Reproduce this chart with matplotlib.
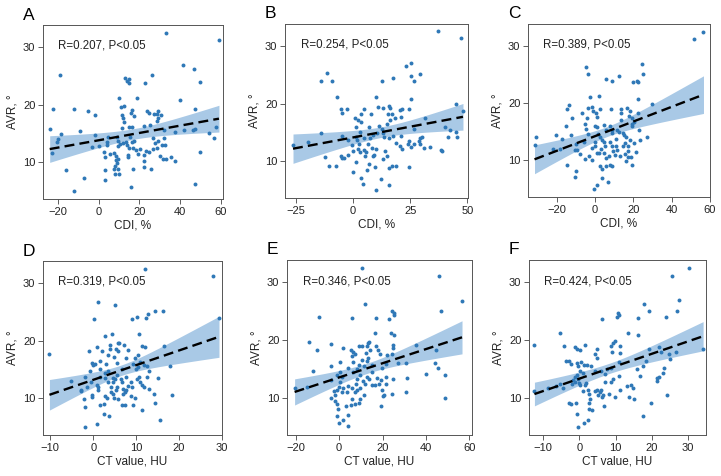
import numpy as np
import matplotlib
matplotlib.use("Agg")
import matplotlib.pyplot as plt

plt.rcParams['font.family'] = ['Liberation Sans', 'DejaVu Sans']

# ---- data (AVR, degrees vs. CDI % / CT value HU) ----
a_x = [33.3, 59.2, 41.3, 46.9, -19.3, 26.1, 12.9, 14.7, 13.7, 14.7, 23.0, 49.8, 40.0, 9.8, 19.0,
       -5.1, -12.4, -22.7, 47.4, 11.1, 12.6, 16.3, 16.0, -2.0, 23.7, 24.7, 29.2, 28.9, 27.3, 30.6,
       11.3, 12.1, 17.5, 29.4, 28.9, 12.6, 22.4, 25.0, 16.3, 14.7, 11.3, -24.2, -18.5, -9.2, -20.1,
       -20.4, -23.0, -16.0, -7.4, -12.3, 4.7, 3.9, 4.1, 0.0, 2.8, 2.9, 2.9, 9.0, 9.5, 10.5,
       9.6, 11.9, 7.7, 8.7, 9.5, 8.3, 8.8, 7.8, 7.4, 9.5, 9.8, 15.2, 13.2, 14.1, 15.0,
       14.2, 14.4, 16.2, 17.0, 18.1, 19.3, 16.8, 15.7, 22.4, 22.5, 25.8, 23.5, 24.5, 22.4, 26.6,
       27.6, 29.2, 30.9, 32.5, 32.2, 26.8, 28.6, 30.2, 31.5, 33.2, 35.5, 37.4, 37.7, 32.2, 42.0,
       46.4, 47.5, 49.8, 54.2, 56.7, 57.8, 47.2, -1.8, -3.3, 5.7, 7.8, 3.1, 17.5, 20.3]
a_y = [32.5, 31.2, 26.9, 26.3, 25.1, 25.2, 24.7, 24.4, 24.1, 23.8, 23.7, 24.0, 20.8, 21.2, 21.2,
       18.9, 19.3, 19.3, 19.3, 19.6, 19.7, 19.0, 18.6, 18.2, 18.9, 18.6, 18.8, 18.4, 18.4, 18.2,
       18.2, 17.6, 18.0, 17.6, 17.2, 16.9, 16.2, 16.4, 16.1, 16.0, 15.9, 15.8, 14.9, 15.4, 13.9,
       13.5, 11.6, 8.5, 7.1, 4.9, 14.3, 13.5, 12.9, 12.7, 11.7, 10.9, 6.8, 14.3, 13.6, 13.1,
       12.7, 13.3, 11.6, 11.0, 10.5, 10.3, 9.8, 9.3, 8.8, 8.7, 7.9, 14.4, 13.4, 12.9, 12.4,
       11.2, 10.9, 13.4, 12.4, 12.0, 11.4, 8.8, 5.6, 10.1, 9.1, 8.8, 11.8, 11.7, 11.2, 12.2,
       13.2, 13.6, 13.0, 12.9, 14.2, 14.1, 12.4, 11.1, 10.5, 10.5, 10.8, 10.1, 15.2, 15.6, 15.6,
       15.6, 15.8, 11.7, 15.1, 14.1, 16.0, 6.1, 14.6, 12.6, 11.3, 7.9, 8.6, 13.6, 12.3]

b_x = [37.2, 47.1, 25.6, 23.4, 25.3, 26.6, 29.1, -11.2, -13.8, -9.0, 12.5, 17.4, -6.8, 10.3, 25.4,
       -5.1, -2.5, -4.9, 4.8, 10.9, 13.1, 15.6, 16.0, 20.5, 21.5, 24.4, 3.6, 8.0, 15.4, 16.9,
       18.6, 21.1, 31.4, 48.1, 44.9, 42.3, 40.3, 39.0, 44.9, 45.5, 41.6, 33.9, 30.2, 29.5, 28.8,
       24.4, 24.1, 25.3, 26.6, 26.6, 24.4, 20.5, 21.4, 18.8, 16.9, 15.6, 15.8, 14.8, 14.0, 13.1,
       12.1, 10.3, 9.6, 8.9, 9.4, 10.3, 8.3, 6.8, 7.6, 8.7, 10.6, 13.2, 13.5, 14.7, 16.4,
       12.8, 11.2, 4.8, 5.7, 5.1, 3.3, 2.2, 2.8, 1.9, 1.2, 1.5, 0.9, 2.0, 3.5, 7.0,
       0.1, 3.5, 4.4, 7.0, 6.0, 1.3, -4.8, -5.4, -4.8, -3.8, -7.6, -10.6, -12.4, -14.1, -19.5,
       -26.2, 4.9, 3.3, -2.2, -0.6, 18.9, 21.2, 15.8, 17.6, 31.0, 38.6, 29.5, -0.1, -2.0]
b_y = [32.7, 31.4, 27.0, 26.5, 24.8, 24.0, 25.2, 25.3, 24.0, 23.9, 23.9, 24.4, 21.2, 21.2, 20.8,
       19.0, 19.0, 18.3, 19.0, 19.4, 19.3, 19.6, 19.2, 18.8, 19.1, 19.0, 18.2, 18.2, 18.2, 18.1,
       17.5, 17.7, 17.5, 18.7, 19.9, 15.4, 15.9, 11.7, 15.0, 14.2, 14.1, 12.4, 14.2, 13.9, 13.5,
       13.5, 13.0, 12.4, 13.0, 15.6, 9.0, 12.6, 12.1, 9.1, 9.1, 8.8, 5.7, 10.9, 11.7, 10.4,
       6.8, 4.9, 9.0, 10.9, 11.0, 12.0, 12.3, 13.0, 13.9, 14.5, 14.9, 14.9, 14.2, 16.5, 17.1,
       15.6, 16.0, 11.9, 11.6, 10.8, 11.6, 12.1, 13.0, 13.6, 14.2, 15.9, 17.5, 17.1, 16.8, 15.9,
       8.0, 7.0, 5.9, 9.5, 8.4, 9.8, 14.3, 10.8, 10.5, 10.5, 9.1, 9.1, 10.6, 14.9, 13.3,
       12.7, 14.0, 15.0, 13.7, 12.7, 13.1, 14.3, 13.9, 14.4, 12.2, 11.9, 13.0, 11.7, 11.1]

c_x = [56.6, 51.4, 24.3, 25.2, -4.9, -3.7, 5.9, 9.1, 12.6, 19.6, 21.7, 22.6, -2.8, 2.1, 22.6,
       29.5, -13.6, -3.7, -1.4, 2.8, 8.2, 13.3, 16.8, -14.7, -1.0, -6.8, 0.7, 13.8, 18.2, 22.2,
       1.0, -11.9, 17.8, 19.1, 20.3, -5.2, -15.4, -0.2, 1.0, 4.7, 19.1, 19.4, 5.6, 11.7, 8.6,
       14.7, -20.3, -12.4, -3.5, -30.8, -31.6, -17.1, -21.7, -18.5, -14.7, -9.8, -10.7, -9.4, -9.8, -10.3,
       -5.8, -8.0, -5.1, -3.3, -1.4, -0.2, -0.2, 1.9, 3.3, 3.8, 4.5, 5.4, 4.5, 1.0, -1.6,
       2.6, 3.7, 3.7, -0.5, 1.0, 7.0, 5.9, 7.2, 5.9, 8.0, 9.1, 10.3, 9.4, 8.0, 8.6,
       10.8, 10.8, 11.7, 12.9, 14.5, 15.6, 16.4, 15.0, 18.0, 17.3, 17.1, 15.7, 16.4, 18.7, 17.0,
       19.1, 20.3, 23.4, 26.9, 23.1, 21.3, 12.6, 7.7, 1.6, 2.4, -4.9, -4.2, 8.9, 13.5]
c_y = [32.5, 31.3, 26.9, 25.1, 26.4, 25.2, 24.3, 23.9, 24.7, 23.7, 23.9, 23.7, 21.1, 21.2, 20.7,
       19.8, 19.6, 19.2, 19.3, 18.9, 19.0, 18.9, 19.2, 18.9, 18.6, 18.3, 18.2, 18.2, 18.6, 18.3,
       17.6, 17.3, 17.7, 17.3, 16.7, 16.3, 15.9, 15.9, 15.8, 16.2, 15.9, 16.3, 15.3, 15.3, 14.7,
       14.8, 14.4, 14.4, 14.6, 14.0, 12.7, 13.7, 12.0, 12.0, 9.1, 12.8, 11.7, 11.7, 8.1, 7.1,
       13.1, 11.0, 10.1, 10.7, 12.1, 13.1, 12.5, 11.3, 12.0, 13.6, 13.1, 12.4, 11.2, 11.2, 10.0,
       9.0, 8.5, 6.8, 4.9, 5.6, 6.1, 9.0, 10.7, 10.4, 9.1, 9.0, 10.8, 11.6, 13.1, 12.4,
       13.7, 12.4, 11.8, 10.7, 12.4, 13.0, 14.0, 14.4, 13.6, 12.4, 11.6, 11.0, 9.9, 10.6, 10.6,
       9.1, 13.0, 13.5, 14.1, 15.3, 11.4, 14.9, 15.9, 14.6, 14.1, 15.4, 17.3, 15.3, 17.0]

d_x = [12.0, 28.0, 1.0, 5.0, 0.2, 9.1, 10.2, 12.7, 12.3, 14.5, 16.3, 29.3, 4.4, 10.7, 2.7,
       0.9, -0.9, -10.2, 2.1, 3.8, 5.2, 5.7, 6.1, 5.7, 7.1, 3.8, 8.2, 11.4, 12.0, 16.5,
       3.4, 4.8, 7.7, 10.5, 11.0, 3.0, 5.5, -0.4, -0.1, 0.5, 1.5, -0.7, 10.0, 10.5, 11.8,
       12.6, 17.9, -2.0, -5.2, -2.9, -2.9, -1.5, -0.5, -0.3, -0.2, 0.8, 1.0, 1.1, 1.6, 2.7,
       2.8, 3.5, 3.4, 4.5, 4.5, 5.0, 4.1, 5.5, 5.2, 4.2, 2.8, 3.3, 4.9, 2.4, 1.5,
       -2.1, -2.0, 2.4, 3.6, 0.9, -1.8, 6.6, 6.5, 6.6, 6.9, 7.0, 7.3, 7.7, 6.7, 7.3,
       8.0, 8.8, 9.1, 9.2, 9.8, 10.2, 10.7, 11.0, 11.4, 11.8, 11.3, 13.0, 12.6, 15.1, 14.2,
       14.3, 15.5, 18.4, 12.9, 5.8, 7.7, 5.5, 9.3, 9.8, 1.6, 4.6, 8.7]
d_y = [32.5, 31.2, 26.8, 26.3, 23.8, 23.7, 24.2, 24.6, 23.9, 25.1, 25.1, 24.0, 21.2, 21.2, 20.8,
       18.9, 18.2, 17.6, 18.2, 18.5, 18.5, 18.2, 19.5, 19.6, 19.3, 19.2, 18.4, 19.0, 18.8, 19.0,
       17.4, 17.1, 16.9, 17.4, 16.3, 15.9, 16.1, 16.0, 15.7, 15.9, 15.1, 14.6, 15.0, 15.3, 15.7,
       15.5, 15.6, 13.7, 13.0, 11.4, 11.2, 11.8, 12.8, 10.5, 10.2, 12.2, 11.8, 11.4, 13.6, 13.4,
       14.3, 14.6, 12.7, 13.5, 12.7, 13.2, 11.8, 11.8, 11.4, 11.1, 10.4, 10.0, 10.0, 9.0, 8.8,
       9.8, 8.4, 7.1, 6.8, 5.5, 4.9, 15.0, 13.2, 12.7, 11.6, 10.7, 11.1, 11.4, 8.8, 8.8,
       12.1, 12.8, 11.8, 8.7, 10.0, 13.2, 13.7, 12.7, 12.2, 11.8, 7.9, 14.6, 13.6, 13.4, 10.7,
       9.1, 6.1, 10.5, 11.6, 9.8, 13.7, 14.0, 15.9, 17.0, 16.5, 10.7, 10.4]

e_x = [10.6, 45.9, 56.6, 11.9, -9.2, 6.0, 16.8, 24.2, 25.2, 25.5, 23.1, 46.9, -13.8, -10.2, -3.8,
       1.7, 9.2, 10.7, 12.7, 13.5, 13.9, 16.5, 23.9, 25.1, 24.9, 24.9, 17.0, 35.2, 5.5, 6.6,
       7.3, 6.1, 12.4, 14.4, 17.7, 18.8, 21.9, 24.2, -12.1, -3.7, 0.6, 0.6, 6.6, 10.7, 13.0,
       13.1, 11.5, 8.4, 9.3, 15.3, 19.6, 21.4, 27.1, 31.0, 39.8, 44.0, 44.8, 45.4, 48.8, 48.6,
       30.7, 31.3, 24.8, 24.2, 17.3, 16.5, 18.5, 19.1, 21.4, 21.4, 19.9, 20.9, 20.0, 19.1, 15.0,
       13.8, 13.0, 11.9, 11.2, 9.6, 8.4, 7.6, 9.6, 8.1, 7.3, 6.1, 4.3, 3.5, 2.0, 1.1,
       0.2, 0.0, -0.8, -2.3, -1.8, -3.8, -2.1, -1.1, -0.6, -1.1, 0.0, 4.3, 4.3, 2.0, 5.4,
       3.2, 7.3, 9.2, 11.5, 9.6, 6.1, -3.8, -14.8, -20.5, 1.2, 6.3, 4.0, 15.0, -0.8]
e_y = [32.5, 31.2, 26.8, 26.3, 24.0, 23.8, 23.9, 25.1, 24.7, 24.4, 23.7, 25.0, 19.7, 18.3, 19.3,
       18.6, 18.9, 18.9, 19.0, 19.5, 19.6, 21.2, 21.2, 20.8, 19.2, 18.6, 18.9, 19.2, 18.2, 18.0,
       17.6, 17.3, 17.7, 18.2, 18.2, 17.5, 17.4, 17.6, 14.7, 15.4, 14.4, 16.2, 16.2, 16.5, 16.3,
       16.9, 15.4, 15.0, 15.7, 15.6, 15.1, 15.9, 16.0, 16.0, 14.1, 16.0, 18.3, 15.1, 14.0, 10.0,
       10.9, 13.4, 13.2, 10.6, 13.4, 12.2, 12.3, 13.0, 13.6, 12.4, 11.4, 10.5, 10.2, 8.6, 12.1,
       13.2, 13.5, 12.3, 12.8, 13.9, 13.2, 12.4, 11.6, 11.3, 11.0, 11.6, 12.0, 11.0, 11.6, 11.0,
       12.7, 11.8, 11.3, 11.1, 10.4, 10.0, 9.4, 8.8, 8.0, 6.8, 5.5, 5.0, 6.9, 6.1, 8.7,
       8.6, 8.8, 9.0, 10.5, 9.8, 9.8, 13.1, 11.8, 11.7, 13.6, 14.4, 15.1, 14.4, 13.9]

f_x = [30.2, 25.6, 18.0, 27.6, 19.3, 26.9, 10.7, 11.0, 10.5, 6.3, 16.1, 23.9, -5.3, 13.4, 16.3,
       -12.4, 1.6, 9.4, 9.9, 8.7, 11.2, -4.2, -1.2, -0.6, 0.2, 5.0, 8.9, 11.2, 4.3, 4.8,
       19.3, 22.1, -3.7, -2.9, -2.3, -0.7, 0.6, 1.4, 2.0, 11.0, 18.4, 22.6, 24.9, 26.6, 34.2,
       5.9, 7.6, 8.7, 7.1, 4.3, 0.2, -0.6, -1.2, -1.7, -2.0, -1.2, -0.3, 0.0, 0.2, -5.3,
       -6.4, -8.6, -12.4, -4.6, 0.9, 1.7, 1.8, 2.5, 2.7, 2.9, 2.7, 2.6, 2.3, 1.3, -0.3,
       -0.6, -0.9, -2.8, -2.4, 4.4, 5.0, 5.7, 6.1, 5.3, 6.6, 6.8, 6.3, 8.1, 9.2, 8.7,
       9.9, 11.2, 11.0, 13.1, 13.6, 14.3, 14.7, 15.0, 16.9, 15.8, 17.5, 17.7, 19.8, 21.4, 21.6,
       21.9, 23.2, 23.3, 24.1, 25.0, 3.5, 1.1, 3.3, -0.3, 7.2]
f_y = [32.5, 31.2, 26.3, 26.9, 25.0, 25.1, 24.7, 24.4, 24.0, 23.7, 23.8, 24.0, 21.2, 21.2, 20.8,
       19.2, 19.2, 19.5, 19.8, 19.0, 19.0, 18.9, 18.8, 18.5, 18.3, 18.5, 18.0, 17.8, 17.6, 16.9,
       18.5, 18.8, 16.3, 16.3, 15.9, 16.0, 16.2, 15.7, 15.6, 16.1, 16.3, 17.9, 17.5, 18.0, 18.4,
       14.6, 15.0, 15.1, 14.1, 14.7, 14.7, 13.9, 13.6, 13.0, 12.4, 12.7, 13.2, 12.6, 12.1, 12.4,
       12.0, 11.6, 11.2, 11.6, 11.1, 12.1, 12.5, 11.3, 10.7, 9.8, 9.0, 8.0, 6.1, 5.5, 4.9,
       7.1, 9.0, 9.1, 8.8, 11.1, 11.4, 11.0, 11.4, 10.5, 10.5, 8.5, 10.1, 10.7, 13.3, 12.7,
       10.1, 11.3, 13.7, 12.0, 10.1, 12.2, 11.7, 9.8, 13.7, 15.0, 15.4, 6.8, 9.1, 12.9, 13.4,
       13.6, 14.3, 15.1, 10.5, 16.7, 7.8, 14.3, 15.4, 15.5, 12.7]

panel_letters = ['A', 'B', 'C', 'D', 'E', 'F']
r_labels = ['R=0.207, P<0.05', 'R=0.254, P<0.05', 'R=0.389, P<0.05',
            'R=0.319, P<0.05', 'R=0.346, P<0.05', 'R=0.424, P<0.05']
x_labels = ['CDI, %'] * 3 + ['CT value, HU'] * 3
x_ticks = [[-20, 0, 20, 40, 60], [-25, 0, 25, 50], [-20, 0, 20, 40, 60],
           [-10, 0, 10, 20, 30], [-20, 0, 20, 40, 60], [-10, 0, 10, 20, 30]]
x_limits = [(-27.5, 61.2), (-29.7, 50.3), (-35.0, 60.0),
            (-11.7, 30.0), (-24.0, 61.2), (-13.9, 35.0)]
y_ticks = [10, 20, 30]
y_limits = (3.5, 33.9)

panels = [(a_x, a_y), (b_x, b_y), (c_x, c_y), (d_x, d_y), (e_x, e_y), (f_x, f_y)]

# axes boxes in pixels: left, top, right, bottom
boxes = [(43, 25, 223, 199), (285, 24, 468, 198), (528, 24, 710, 197),
         (43, 261, 222, 435), (287, 260, 472, 435), (529, 260, 706, 435)]

W, H = 721, 476
POINT = '#2f78b7'
BAND = '#a9c9e6'
INK = '#222222'

fig = plt.figure(figsize=(W / 100, H / 100), dpi=100)

for i, (xs, ys) in enumerate(panels):
	l, t, r, b = boxes[i]
	ax = fig.add_axes([l / W, 1 - b / H, (r - l) / W, (b - t) / H])
	x = np.array(xs)
	y = np.array(ys)

	# linear fit with 95% confidence band
	n = len(x)
	slope, icpt = np.polyfit(x, y, 1)
	resid = y - (slope * x + icpt)
	s = np.sqrt(np.sum(resid ** 2) / (n - 2))
	xx = np.linspace(x.min(), x.max(), 100)
	yy = slope * xx + icpt
	se = s * np.sqrt(1 / n + (xx - x.mean()) ** 2 / np.sum((x - x.mean()) ** 2))
	ax.fill_between(xx, yy - 1.98 * se, yy + 1.98 * se, color=BAND, lw=0, zorder=1)
	ax.scatter(x, y, s=8, color=POINT, lw=0, zorder=2)
	ax.plot(xx, yy, color='black', lw=1.7, ls=(0, (4.2, 2.2)), zorder=3)

	ax.set_xlim(*x_limits[i])
	ax.set_ylim(*y_limits)
	ax.set_xticks(x_ticks[i])
	ax.set_yticks(y_ticks)
	ax.set_xticklabels([str(v).replace('-', '\u2212') for v in x_ticks[i]])
	ax.tick_params(labelsize=8, length=3.5, width=0.6, color='#444444',
	               labelcolor=INK, pad=2)
	for sp in ax.spines.values():
		sp.set_linewidth(0.7)
		sp.set_color('#555555')
	ax.set_xlabel(x_labels[i], fontsize=8.5, color=INK, labelpad=2)
	ax.set_ylabel('AVR, \u00b0', fontsize=8.5, color=INK, labelpad=3)
	ax.text(0.085, 0.88, r_labels[i], transform=ax.transAxes, fontsize=8.3,
	        color=INK, va='center', ha='left')
	fig.text((l - 20) / W, 1 - (t - 10) / H, panel_letters[i], fontsize=12.5,
	         color='black', va='center', ha='left')

fig.savefig('out.png', dpi=100)
